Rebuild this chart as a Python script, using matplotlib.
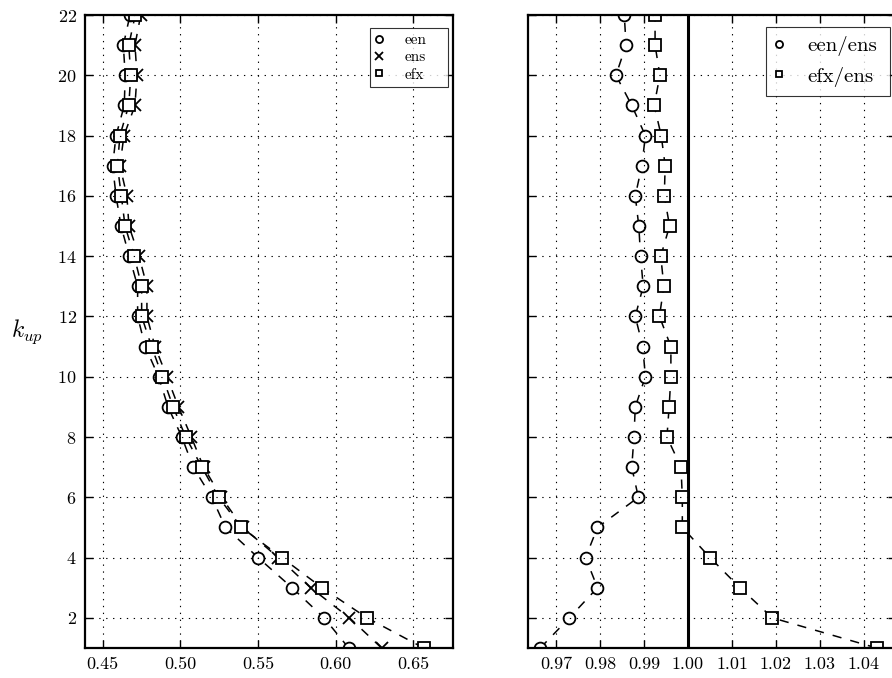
import numpy as np
import matplotlib
matplotlib.use("Agg")
import matplotlib.pyplot as plt
from matplotlib.ticker import FixedLocator, FormatStrFormatter

plt.rcParams['font.family'] = 'serif'
plt.rcParams['font.serif'] = ['cmr10', 'DejaVu Serif']
plt.rcParams['mathtext.fontset'] = 'cm'
plt.rcParams['axes.formatter.use_mathtext'] = True

k_up = list(range(1, 23))

een = [0.6085, 0.5926, 0.5720, 0.5501, 0.5291, 0.5203, 0.5083, 0.5010, 0.4921,
       0.4860, 0.4774, 0.4725, 0.4725, 0.4671, 0.4618, 0.4586, 0.4564, 0.4586,
       0.4639, 0.4645, 0.4633, 0.4676]
ens = [0.6297, 0.6090, 0.5840, 0.5632, 0.5402, 0.5265, 0.5150, 0.5071, 0.4988,
       0.4914, 0.4837, 0.4785, 0.4785, 0.4734, 0.4669, 0.4656, 0.4611, 0.4637,
       0.4708, 0.4721, 0.4708, 0.4745]
efx = [0.6568, 0.6203, 0.5913, 0.5654, 0.5394, 0.5247, 0.5139, 0.5035, 0.4954,
       0.4885, 0.4815, 0.4751, 0.4751, 0.4703, 0.4644, 0.4620, 0.4595, 0.4611,
       0.4668, 0.4681, 0.4668, 0.4710]

een_ens = [0.9664, 0.9730, 0.9794, 0.9767, 0.9794, 0.9887, 0.9872, 0.9877, 0.9880,
           0.9903, 0.9897, 0.9880, 0.9898, 0.9892, 0.9888, 0.9880, 0.9895, 0.9903,
           0.9872, 0.9836, 0.9859, 0.9855]
efx_ens = [1.0429, 1.0192, 1.0118, 1.0050, 0.9987, 0.9987, 0.9984, 0.9952, 0.9957,
           0.9961, 0.9961, 0.9935, 0.9945, 0.9938, 0.9958, 0.9946, 0.9948, 0.9939,
           0.9923, 0.9936, 0.9925, 0.9925]

left_xticks = [0.45, 0.50, 0.55, 0.60, 0.65]
right_xticks = [0.97, 0.98, 0.99, 1.00, 1.01, 1.02, 1.03, 1.04, 1.05]
yticks = list(range(2, 23, 2))

W, H = 892, 678
fig = plt.figure(figsize=(W / 100, H / 100), dpi=100)
axL = fig.add_axes([85 / W, 30 / H, 368 / W, 633 / H])
axR = fig.add_axes([528 / W, 30 / H, 368 / W, 633 / H])

line_kw = dict(color='black', lw=1.1, dashes=(6, 6), zorder=2)
mk_kw = dict(color='black', linestyle='none', mfc='white', mew=1.3, zorder=2)

def style(ax, xticks, xlim):
    ax.set_xlim(*xlim)
    ax.set_ylim(1, 22)
    ax.set_axisbelow(False)
    ax.xaxis.set_major_locator(FixedLocator(xticks))
    ax.xaxis.set_major_formatter(FormatStrFormatter('%.2f'))
    ax.yaxis.set_major_locator(FixedLocator(yticks))
    ax.tick_params(direction='in', top=True, right=True, length=6, width=1,
                   labelsize=13, pad=6)
    ax.grid(True, linestyle=(0, (1.2, 5)), color='black', linewidth=0.8)
    for s in ax.spines.values():
        s.set_linewidth(1.6)

def make_legend(ax, x0, w, top, fs, bp, hl, htp, ls):
    leg = ax.legend(loc='upper left', bbox_to_anchor=(x0, 0.0, w, top),
                    mode='expand', borderaxespad=0.0, fontsize=fs,
                    numpoints=1, markerscale=0.6, handlelength=hl,
                    handletextpad=htp, labelspacing=ls, borderpad=bp,
                    fancybox=False)
    leg.get_frame().set_edgecolor('black')
    leg.get_frame().set_linewidth(0.8)
    return leg

# Left panel
series_L = [(een, 'o', 'een', 8.5), (ens, 'x', 'ens', 8.5), (efx, 's', 'efx', 8)]
for vals, m, lab, ms in series_L:
    axL.plot(vals, k_up, **line_kw)
for vals, m, lab, ms in series_L:
    axL.plot(vals, k_up, marker=m, markersize=ms, label=lab, **mk_kw)
style(axL, left_xticks, (0.4386, 0.6757))
axL.set_ylabel(r'$k_{up}$', rotation=0, fontsize=17, labelpad=22, va='center')
make_legend(axL, (370 - 85) / 368, 78 / 368, (648 - 28) / 633,
            fs=11, bp=0.35, hl=0.47, htp=1.46, ls=0.24)

# Right panel
axR.axvline(1.0, color='black', lw=2.2, zorder=1.9)
series_R = [(een_ens, 'o', 'een/ens', 8.5), (efx_ens, 's', 'efx/ens', 8)]
for vals, m, lab, ms in series_R:
    axR.plot(vals, k_up, **line_kw)
for vals, m, lab, ms in series_R:
    axR.plot(vals, k_up, marker=m, markersize=ms, label=lab, **mk_kw)
style(axR, right_xticks, (0.9636, 1.0473))
axR.tick_params(labelleft=False)
make_legend(axR, (766 - 528) / 368, 124 / 368, (648 - 27) / 633,
            fs=15, bp=0.45, hl=0.3, htp=1.22, ls=0.5)

fig.savefig('out.png', dpi=100)
